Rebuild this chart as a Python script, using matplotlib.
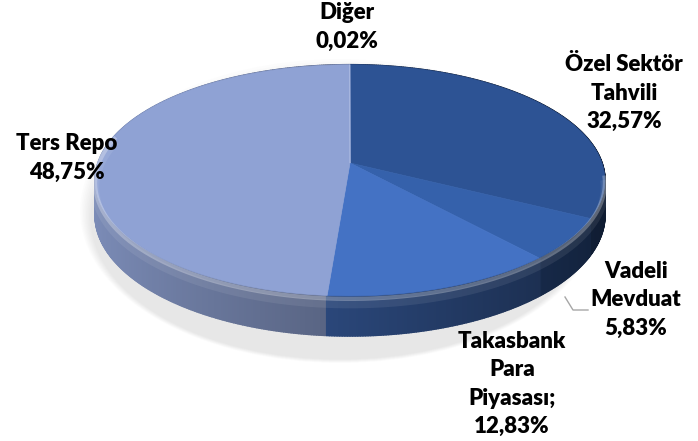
import numpy as np
import matplotlib.pyplot as plt
from matplotlib.collections import PolyCollection
from matplotlib.patches import Polygon, Ellipse
from matplotlib.colors import to_rgb

# Daten
names = ["Özel Sektör\nTahvili", "Vadeli\nMevduat", "Takasbank\nPara\nPiyasası;", "Ters Repo", "Diğer"]
values = [32.57, 5.83, 12.83, 48.75, 0.02]
top_colors = ["#2D5394", "#3561AB", "#4472C4", "#8FA2D4", "#A9B8E0"]

# Lage der Beschriftungen (Pixel)
label_pos = [(624, 93), (636, 300), (512, 384), (67, 158), (347, 27)]

# Geometrie der "3D" Torte
CX, CY = 350, 163
A, B = 252, 113
K = 0.15      # Perspektive
T = 34        # Dicke

def proj(th_deg, depth=0.0, r=1.0):
    th = np.radians(th_deg)
    u = r * np.sin(th)
    v = -r * np.cos(th)
    p = 1.0 / (1.0 - K * v)
    return CX + A * u * p, CY + (B * v + depth) * p

bounds = 360 * np.concatenate([[0], np.cumsum(values)]) / sum(values)

fig = plt.figure(figsize=(6.98, 4.41), dpi=100)
ax = fig.add_axes([0, 0, 1, 1])
ax.set_xlim(0, 698)
ax.set_ylim(441, 0)
ax.axis("off")

# weicher Schatten
for i in range(8):
    ax.add_patch(Ellipse((CX - 10, CY + 48 + i), 2 * A + 16 - 3 * i, 2 * B + 78 - 3 * i,
                         color="#808080", alpha=0.02, lw=0, zorder=0))

def slice_index(th):
    return min(np.searchsorted(bounds, th, side="right") - 1, len(values) - 1)

# Seitenwand in kleinen Stücken, von hinten nach vorne
step = 0.5
quads, cols, depths = [], [], []
for th in np.arange(0, 360, step):
    x0, y0 = proj(th)
    x1, y1 = proj(th + step)
    x2, y2 = proj(th + step, T)
    x3, y3 = proj(th, T)
    quads.append([(x0, y0), (x1, y1), (x2, y2), (x3, y3)])
    mid = th + step / 2
    u = np.sin(np.radians(mid))
    s = np.clip(0.60 - 0.27 * u, 0.3, 1.0)
    c = np.array(to_rgb(top_colors[slice_index(mid)])) * s
    cols.append(np.clip(c, 0, 1))
    depths.append(-np.cos(np.radians(mid)))
order = np.argsort(depths)
ax.add_collection(PolyCollection([quads[i] for i in order],
                                 facecolors=[cols[i] for i in order],
                                 edgecolors=[cols[i] for i in order], lw=1.2, zorder=1))

# Oberseite
for i in range(len(values)):
    th = np.linspace(bounds[i], bounds[i + 1], max(2, int(bounds[i + 1] - bounds[i]) * 2))
    xs, ys = proj(th)
    pts = [(CX, CY)] + list(zip(xs, ys))
    ax.add_patch(Polygon(pts, closed=True, facecolor=top_colors[i],
                         edgecolor=top_colors[i], lw=0.5, zorder=2))

# abgerundete Kante: heller Streifen oben an der Seitenwand
th = np.linspace(95, 285, 200)
xs, ys = proj(th, 2.5)
ax.plot(xs, ys, color="white", alpha=0.28, lw=3, zorder=3, solid_capstyle="butt")
xs, ys = proj(th, 7)
ax.plot(xs, ys, color="white", alpha=0.08, lw=6, zorder=3, solid_capstyle="butt")

# Beschriftungen
for name, val, (x, y) in zip(names, values, label_pos):
    txt = name + "\n" + f"{val:.2f}".replace(".", ",") + "%"
    ax.text(x, y, txt, ha="center", va="center", fontsize=16, fontweight="heavy",
            family="Lato", linespacing=1.42, color="black", zorder=5)

# Führungslinie Vadeli Mevduat
ax.plot([565, 573, 588], [297, 310, 310], color="#A6A6A6", lw=1, zorder=4)

fig.savefig("out.png", dpi=100)
